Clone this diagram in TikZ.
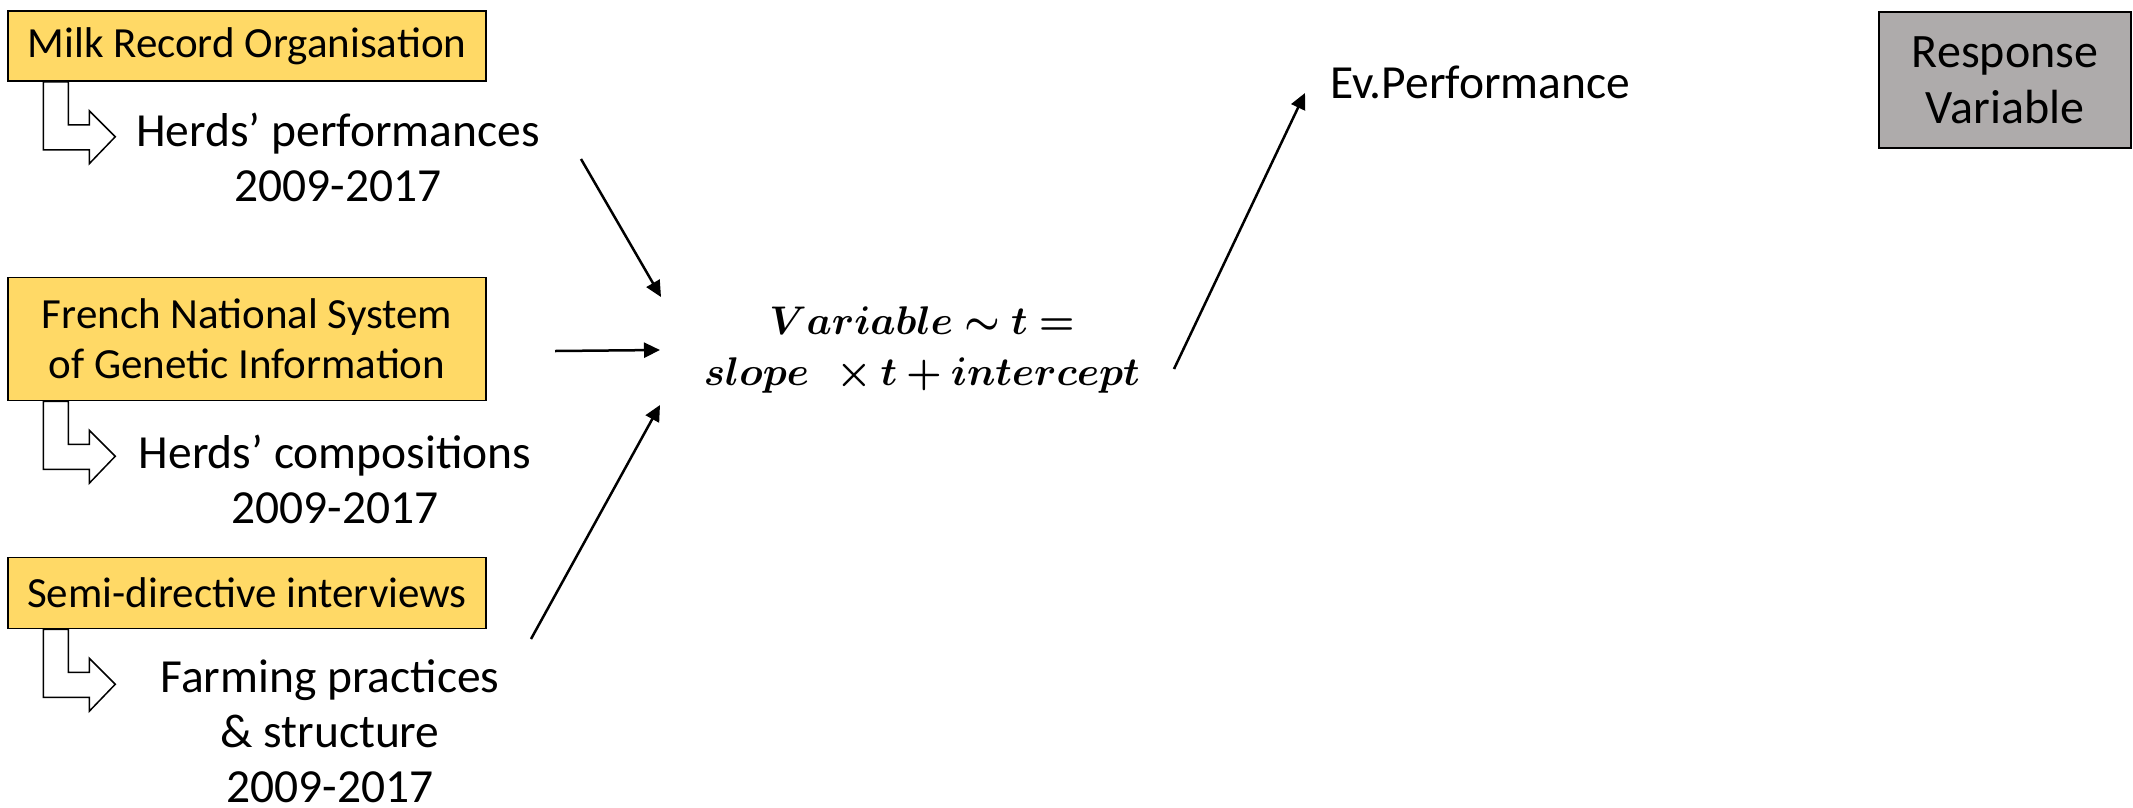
\documentclass[tikz,border=0pt]{standalone}
\usepackage{fontspec}
\setmainfont{Carlito}
\usepackage{amsmath}
\usepackage{bm}
\usetikzlibrary{arrows.meta}
\definecolor{srcgold}{HTML}{FFD966}
\definecolor{respgray}{HTML}{AEABAB}
\newcommand\srcarrow[1]{%
  \draw[line width=1.5pt, fill=white, line join=miter]
    ([xshift=36pt]#1.south west) -- ++(0,68) -- ++(46,0) -- ++(0,14)
    -- ++(26,-27) -- ++(-26,-26) -- ++(0,14) -- ++(-21,0) -- ++(0,-43) -- cycle;}
\begin{document}
\begin{tikzpicture}[x=1pt,y=-1pt,
  srcbox/.style={draw=black, line width=1.5pt, fill=srcgold, inner sep=0pt,
    align=center, font=\fontsize{43}{50}\selectfont},
  respbox/.style={draw=black, line width=1.5pt, fill=respgray, inner sep=0pt,
    align=center, font=\fontsize{48}{56}\selectfont},
  txt/.style={inner sep=0pt, align=center, font=\fontsize{47.5}{55}\selectfont},
  eqn/.style={inner sep=0pt, align=center, font=\fontsize{10}{12.6}\selectfont,
    scale=4, transform shape},
  conn/.style={line width=2.5pt, -{Triangle[length=16pt, width=15pt]}}]
\useasboundingbox (0,0) rectangle (2133,807);

\node[srcbox, minimum width=478pt, minimum height=70pt] (mro) at (247,46) {Milk Record Organisation};
\node[srcbox, minimum width=478pt, minimum height=123pt] (fns) at (247,339) {French National System\\of Genetic Information};
\node[srcbox, minimum width=478pt, minimum height=71pt] (sdi) at (247,593) {Semi-directive interviews};
\node[respbox, minimum width=252pt, minimum height=136pt] (resp) at (2005,80) {Response\\Variable};

\srcarrow{mro}
\srcarrow{fns}
\srcarrow{sdi}

\node[txt] (perf) at (338,157) {Herds’ performances\\2009-2017};
\node[txt] (comp) at (335,479) {Herds’ compositions\\2009-2017};
\node[txt] (farm) at (330,731) {Farming practices\\\& structure\\2009-2017};
\node[txt, anchor=west] (ev) at (1330,82) {Ev.Performance};
\node[eqn] (eq) at (922,350) {$\bm{Variable\sim t=}$\\$\bm{slope\ \ \times t+intercept}$};

\coordinate (a1s) at (581,159);
\coordinate (a1e) at (661,297);
\coordinate (a2s) at (555,351);
\coordinate (a2e) at (660,350);
\coordinate (a3s) at (531,639);
\coordinate (a3e) at (660,405);
\coordinate (a4s) at (1174,369);
\coordinate (a4e) at (1305,93);
\draw[conn] (a1s) -- (a1e);
\draw[conn] (a2s) -- (a2e);
\draw[conn] (a3s) -- (a3e);
\draw[conn] (a4s) -- (a4e);
\end{tikzpicture}
\end{document}
